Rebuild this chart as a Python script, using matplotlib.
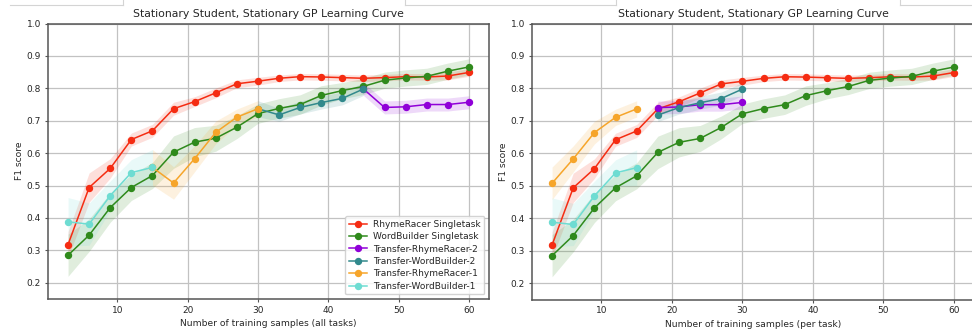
import matplotlib
matplotlib.use("Agg")
import matplotlib.pyplot as plt
from matplotlib.lines import Line2D
import numpy as np

# ---------------- data ----------------
x_single = [3, 6, 9, 12, 15, 18, 21, 24, 27, 30, 33, 36, 39, 42, 45, 48, 51, 54, 57, 60]
rr_single = [0.318, 0.494, 0.553, 0.642, 0.669, 0.737, 0.759, 0.786, 0.814, 0.822,
             0.831, 0.836, 0.835, 0.833, 0.831, 0.833, 0.836, 0.835, 0.838, 0.849]
rr_single_std = [0.04, 0.045, 0.03, 0.02, 0.02, 0.02, 0.015, 0.015, 0.012, 0.012,
                 0.01, 0.01, 0.01, 0.01, 0.01, 0.01, 0.01, 0.01, 0.012, 0.012]
wb_single = [0.285, 0.347, 0.432, 0.494, 0.531, 0.603, 0.634, 0.646, 0.680, 0.722,
             0.738, 0.750, 0.778, 0.793, 0.806, 0.825, 0.832, 0.837, 0.853, 0.866]
wb_single_std = [0.065, 0.05, 0.045, 0.04, 0.04, 0.05, 0.045, 0.04, 0.035, 0.03,
                 0.03, 0.03, 0.03, 0.025, 0.025, 0.025, 0.025, 0.025, 0.025, 0.025]

# transfer stages (per-task x and all-task x)
x_stage1_per = [3, 6, 9, 12, 15]
x_stage2_per = [18, 21, 24, 27, 30]
x_wb1_all = [3, 6, 9, 12, 15]
x_rr1_all = [18, 21, 24, 27, 30]
x_wb2_all = [33, 36, 39, 42, 45]
x_rr2_all = [48, 51, 54, 57, 60]

wb1 = [0.388, 0.381, 0.469, 0.540, 0.556]
wb1_std = [0.075, 0.065, 0.045, 0.04, 0.055]
rr1 = [0.508, 0.583, 0.664, 0.711, 0.737]
rr1_std = [0.05, 0.04, 0.035, 0.025, 0.025]
wb2 = [0.718, 0.741, 0.756, 0.769, 0.798]
wb2_std = [0.02, 0.02, 0.02, 0.02, 0.02]
rr2 = [0.741, 0.743, 0.750, 0.750, 0.757]
rr2_std = [0.02, 0.02, 0.02, 0.02, 0.02]

labels = ["RhymeRacer Singletask", "WordBuilder Singletask", "Transfer-RhymeRacer-2",
          "Transfer-WordBuilder-2", "Transfer-RhymeRacer-1", "Transfer-WordBuilder-1"]
colors = ["#f52c12", "#2f8a1c", "#9000d8", "#31898c", "#f6a52a", "#6edcd2"]

title = "Stationary Student, Stationary GP Learning Curve"
xlabels = ["Number of training samples (all tasks)", "Number of training samples (per task)"]
yticks = [0.2, 0.3, 0.4, 0.5, 0.6, 0.7, 0.8, 0.9, 1.0]
xticks = [10, 20, 30, 40, 50, 60]

# ---------------- style ----------------
TXT = "#262626"
plt.rcParams.update({
    "font.family": "DejaVu Sans",
    "text.color": TXT,
    "axes.labelcolor": TXT,
    "xtick.color": TXT,
    "ytick.color": TXT,
    "xtick.labelsize": 6.5,
    "ytick.labelsize": 6.5,
    "axes.labelsize": 6.6,
    "axes.titlesize": 7.8,
    "legend.fontsize": 6.5,
    "xtick.major.size": 2.5,
    "ytick.major.size": 2.5,
})

W, H = 972, 329
fig = plt.figure(figsize=(W / 100, H / 100), dpi=100)

def px_rect(l, t, r, b):
    return [l / W, 1 - b / H, (r - l) / W, (b - t) / H]

ax1 = fig.add_axes(px_rect(48, 23.5, 489, 299))
ax2 = fig.add_axes(px_rect(532, 23.5, 974, 299.5))


def series(ax, x, y, s, color, label):
    x = np.asarray(x, float)
    y = np.asarray(y, float)
    s = np.asarray(s, float)
    ax.fill_between(x, y - s, y + s, color=color, alpha=0.15, linewidth=0)
    ax.plot(x, y, "-o", color=color, lw=1.1, ms=4.3, label=label)


# left: all tasks (transfer curves connected to previous stage's last point)
series(ax1, x_single, rr_single, rr_single_std, colors[0], labels[0])
series(ax1, x_single, wb_single, wb_single_std, colors[1], labels[1])
series(ax1, [x_wb2_all[-1]] + x_rr2_all, [wb2[-1]] + rr2, [wb2_std[-1]] + rr2_std, colors[2], labels[2])
series(ax1, [x_rr1_all[-1]] + x_wb2_all, [rr1[-1]] + wb2, [rr1_std[-1]] + wb2_std, colors[3], labels[3])
series(ax1, [x_wb1_all[-1]] + x_rr1_all, [wb1[-1]] + rr1, [wb1_std[-1]] + rr1_std, colors[4], labels[4])
series(ax1, x_wb1_all, wb1, wb1_std, colors[5], labels[5])

# right: per task
series(ax2, x_single, rr_single, rr_single_std, colors[0], labels[0])
series(ax2, x_single, wb_single, wb_single_std, colors[1], labels[1])
series(ax2, x_stage2_per, rr2, rr2_std, colors[2], labels[2])
series(ax2, x_stage2_per, wb2, wb2_std, colors[3], labels[3])
series(ax2, x_stage1_per, rr1, rr1_std, colors[4], labels[4])
series(ax2, x_stage1_per, wb1, wb1_std, colors[5], labels[5])

for ax, xl in zip((ax1, ax2), xlabels):
    ax.set_xlim(0.15, 62.85)
    ax.set_ylim(0.15, 1.0)
    ax.set_xticks(xticks)
    ax.set_yticks(yticks)
    ax.grid(True, color="#c2c2c2", lw=0.9)
    ax.set_axisbelow(True)
    for sp in ax.spines.values():
        sp.set_color("#555555")
        sp.set_linewidth(1.1)
    ax.tick_params(color="#555555", pad=2.5)
    ax.set_title(title, pad=5)
    ax.set_xlabel(xl, labelpad=3)
    ax.set_ylabel("F1 score", labelpad=2)

leg = ax1.legend(loc="lower right", framealpha=0.85, borderpad=0.4,
                 handlelength=2.0, labelspacing=0.38, borderaxespad=0.5,
                 handletextpad=0.7)
leg.get_frame().set_edgecolor("#cccccc")

# faint frame remnants across the top of the picture
segs = [((10, 5), (123, 5)), ((123, 5), (123, 0)), ((405, 0), (405, 5)), ((405, 5), (616, 5)),
        ((616, 5), (616, 0)), ((900, 0), (900, 5)), ((900, 5), (972, 5))]
for (xa, ya), (xb, yb) in segs:
    fig.add_artist(Line2D([xa / W, xb / W], [1 - ya / H, 1 - yb / H],
                          transform=fig.transFigure, color="#d4d4d4", lw=0.8))

fig.savefig("out.png", dpi=100)
